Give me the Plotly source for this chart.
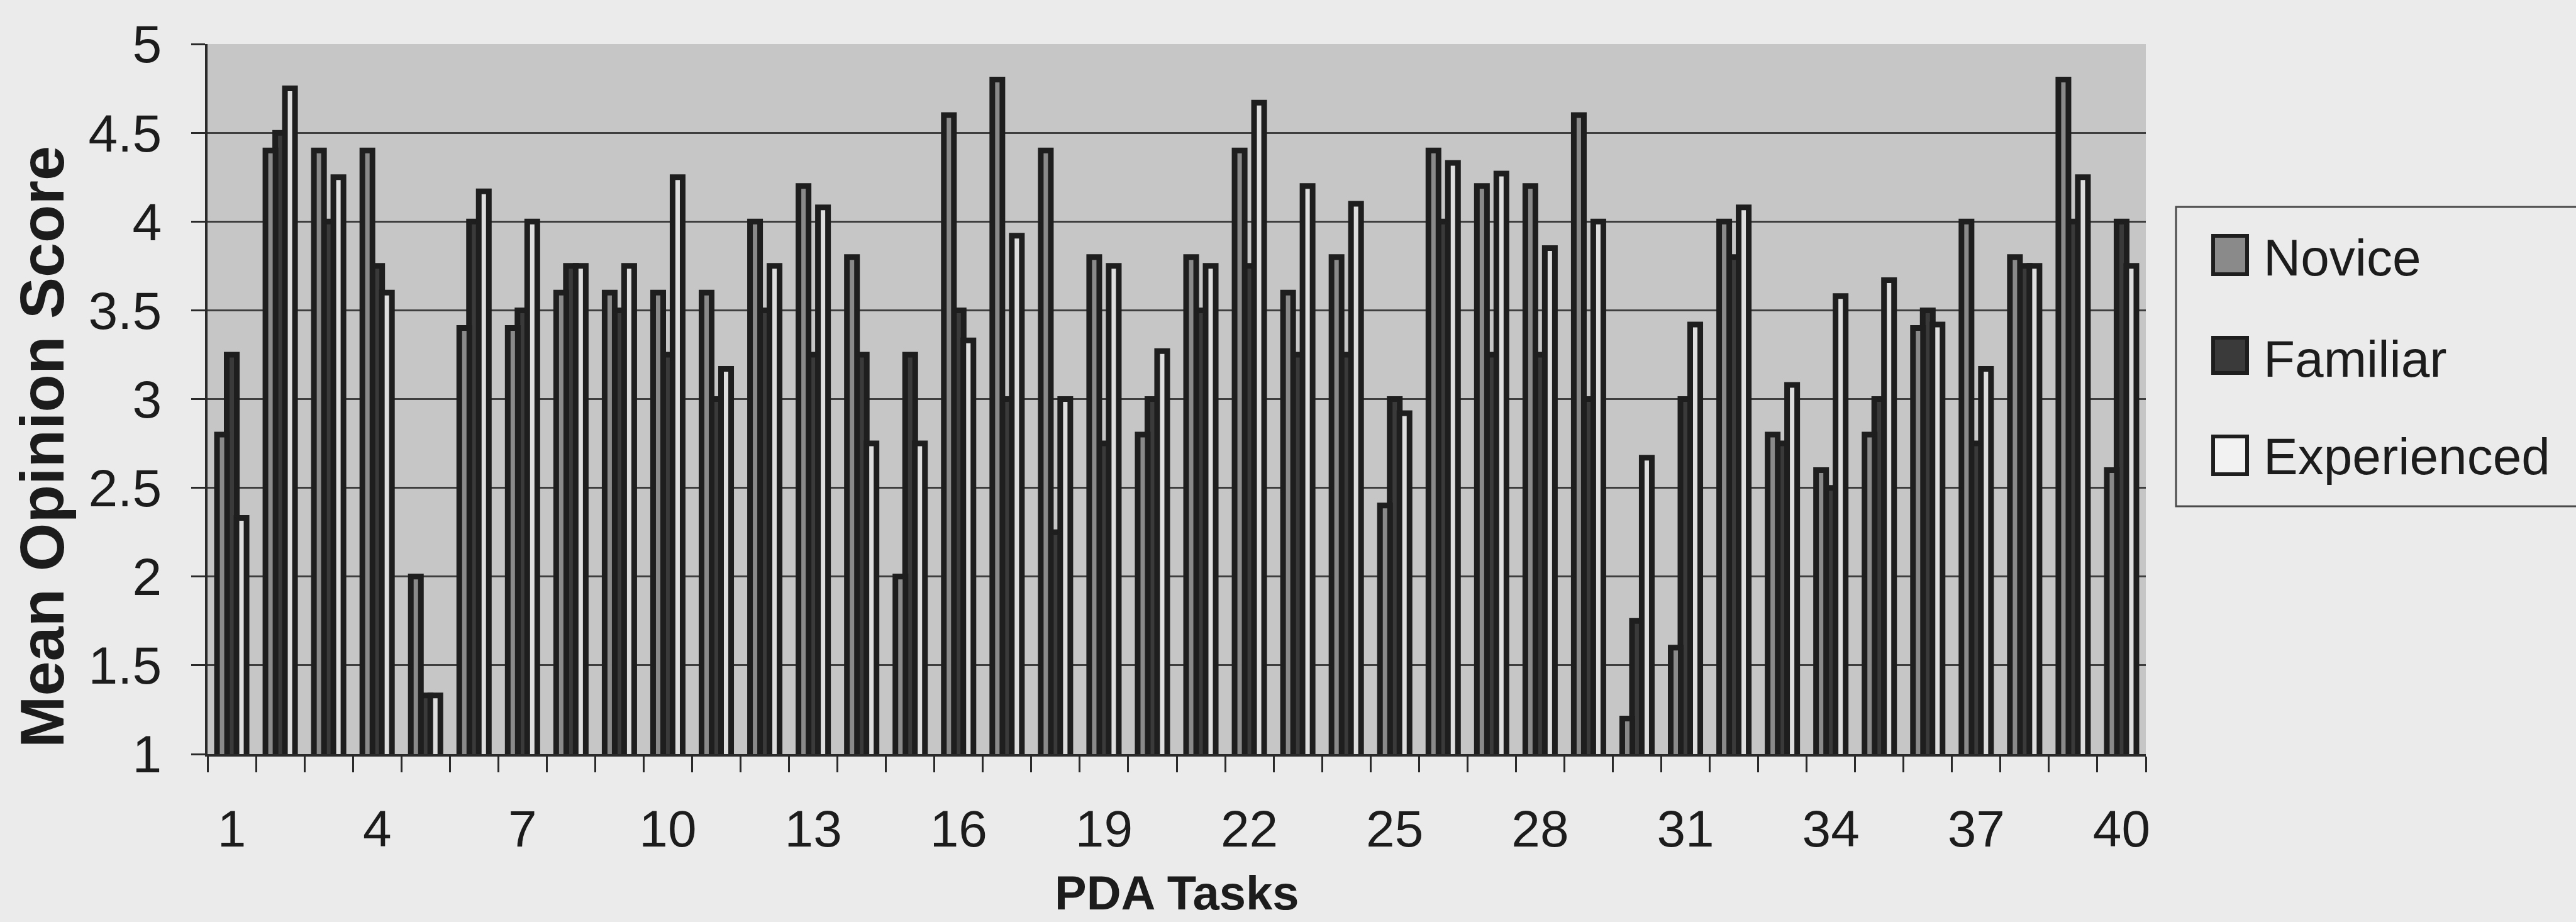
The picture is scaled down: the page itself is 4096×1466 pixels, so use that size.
import plotly.graph_objects as go

# ---------------- data ----------------
tasks = list(range(1, 41))
novice = [2.8, 4.4, 4.4, 4.4, 2.0, 3.4, 3.4, 3.6, 3.6, 3.6,
          3.6, 4.0, 4.2, 3.8, 2.0, 4.6, 4.8, 4.4, 3.8, 2.8,
          3.8, 4.4, 3.6, 3.8, 2.4, 4.4, 4.2, 4.2, 4.6, 1.2,
          1.6, 4.0, 2.8, 2.6, 2.8, 3.4, 4.0, 3.8, 4.8, 2.6]
familiar = [3.25, 4.5, 4.0, 3.75, 1.33, 4.0, 3.5, 3.75, 3.5, 3.25,
            3.0, 3.5, 3.25, 3.25, 3.25, 3.5, 3.0, 2.25, 2.75, 3.0,
            3.5, 3.75, 3.25, 3.25, 3.0, 4.0, 3.25, 3.25, 3.0, 1.75,
            3.0, 3.8, 2.75, 2.5, 3.0, 3.5, 2.75, 3.75, 4.0, 4.0]
experienced = [2.33, 4.75, 4.25, 3.6, 1.33, 4.17, 4.0, 3.75, 3.75, 4.25,
               3.17, 3.75, 4.08, 2.75, 2.75, 3.33, 3.92, 3.0, 3.75, 3.27,
               3.75, 4.67, 4.2, 4.1, 2.92, 4.33, 4.27, 3.85, 4.0, 2.67,
               3.42, 4.08, 3.08, 3.58, 3.67, 3.42, 3.17, 3.75, 4.25, 3.75]
series_names = ["Novice", "Familiar", "Experienced"]
x_tickvals = [1, 4, 7, 10, 13, 16, 19, 22, 25, 28, 31, 34, 37, 40]
x_ticktext = [str(v) for v in x_tickvals]

# ---------------- layout constants ----------------
W, H = 4096, 1466
L, R, T, B = 330, 684, 70, 267
PW = W - L - R
PH = H - T - B

def px2x(px):
    return (px - L) / PW

def py2y(py):
    return (H - B - py) / PH

FONT = "Liberation Sans, Arial, sans-serif"
INK = "#1c1c1c"
PAPER = "#ebebeb"
PLOTBG = "#c6c6c6"
EDGE = "#1e1e1e"
fills = {"Novice": "#8a8a8a", "Familiar": "#3a3a3a", "Experienced": "#dedede"}

bw = 0.208      # bar width in category units
offs = {"Novice": -0.305, "Familiar": -0.104, "Experienced": 0.097}

fig = go.Figure()
# Familiar drawn first (behind), then Novice and Experienced in front
for name, vals in [("Familiar", familiar), ("Novice", novice), ("Experienced", experienced)]:
    fig.add_trace(go.Bar(
        x=tasks, y=vals, name=name,
        width=bw, offset=offs[name],
        marker=dict(color=fills[name], line=dict(color=EDGE, width=9)),
        showlegend=False,
    ))

fig.update_layout(
    width=W, height=H,
    margin=dict(l=L, r=R, t=T, b=B, pad=0),
    paper_bgcolor=PAPER, plot_bgcolor=PLOTBG,
    barmode="overlay",
    font=dict(family=FONT, color=INK),
    xaxis=dict(
        range=[0.5, 40.5],
        tickmode="array", tickvals=x_tickvals, ticktext=x_ticktext,
        ticks="outside", ticklen=45, tickcolor="rgba(0,0,0,0)",
        tickfont=dict(size=82, family=FONT, color=INK),
        showgrid=False, zeroline=False,
        showline=True, linecolor="#2a2a2a", linewidth=4,
        minor=dict(tickmode="array",
                   tickvals=[v + 0.5 for v in range(0, 41)],
                   ticks="outside", ticklen=25, tickwidth=3,
                   tickcolor="#2a2a2a", showgrid=False),
    ),
    yaxis=dict(
        range=[1, 5], tickmode="linear", tick0=1, dtick=0.5,
        ticks="outside", ticklen=22, tickwidth=3, tickcolor="#2a2a2a",
        tickfont=dict(size=84, family=FONT, color=INK),
        ticklabelstandoff=30,
        showgrid=True, gridcolor="#3e3e3e", gridwidth=3,
        zeroline=False,
        showline=True, linecolor="#2a2a2a", linewidth=4,
    ),
)

# axis titles
fig.add_annotation(text="<b>Mean Opinion Score</b>", textangle=-90,
                   xref="paper", yref="paper", x=px2x(66), y=py2y(711),
                   xanchor="center", yanchor="middle", showarrow=False,
                   font=dict(size=99, family=FONT, color=INK))
fig.add_annotation(text="<b>PDA Tasks</b>",
                   xref="paper", yref="paper", x=px2x(1871), y=py2y(1419),
                   xanchor="center", yanchor="middle", showarrow=False,
                   font=dict(size=76, family=FONT, color=INK))

# legend drawn by hand (large swatches as in the original)
fig.add_shape(type="rect", xref="paper", yref="paper",
              x0=px2x(3460), x1=px2x(4130), y0=py2y(805), y1=py2y(329),
              line=dict(color="#4a4a4a", width=3), fillcolor="rgba(0,0,0,0)")
sw_rows = [(375, 436, 410), (537, 593, 570), (694, 754, 725)]
for name, (ya, yb, yc) in zip(series_names, sw_rows):
    fig.add_shape(type="rect", xref="paper", yref="paper",
                  x0=px2x(3519), x1=px2x(3573), y0=py2y(yb), y1=py2y(ya),
                  line=dict(color=EDGE, width=6),
                  fillcolor=fills[name] if name != "Experienced" else "#f2f2f2")
    fig.add_annotation(text=name, xref="paper", yref="paper",
                       x=px2x(3597), y=py2y(yc), xanchor="left", yanchor="middle",
                       showarrow=False, font=dict(size=82, family=FONT, color=INK))

fig.write_html("out.html")
